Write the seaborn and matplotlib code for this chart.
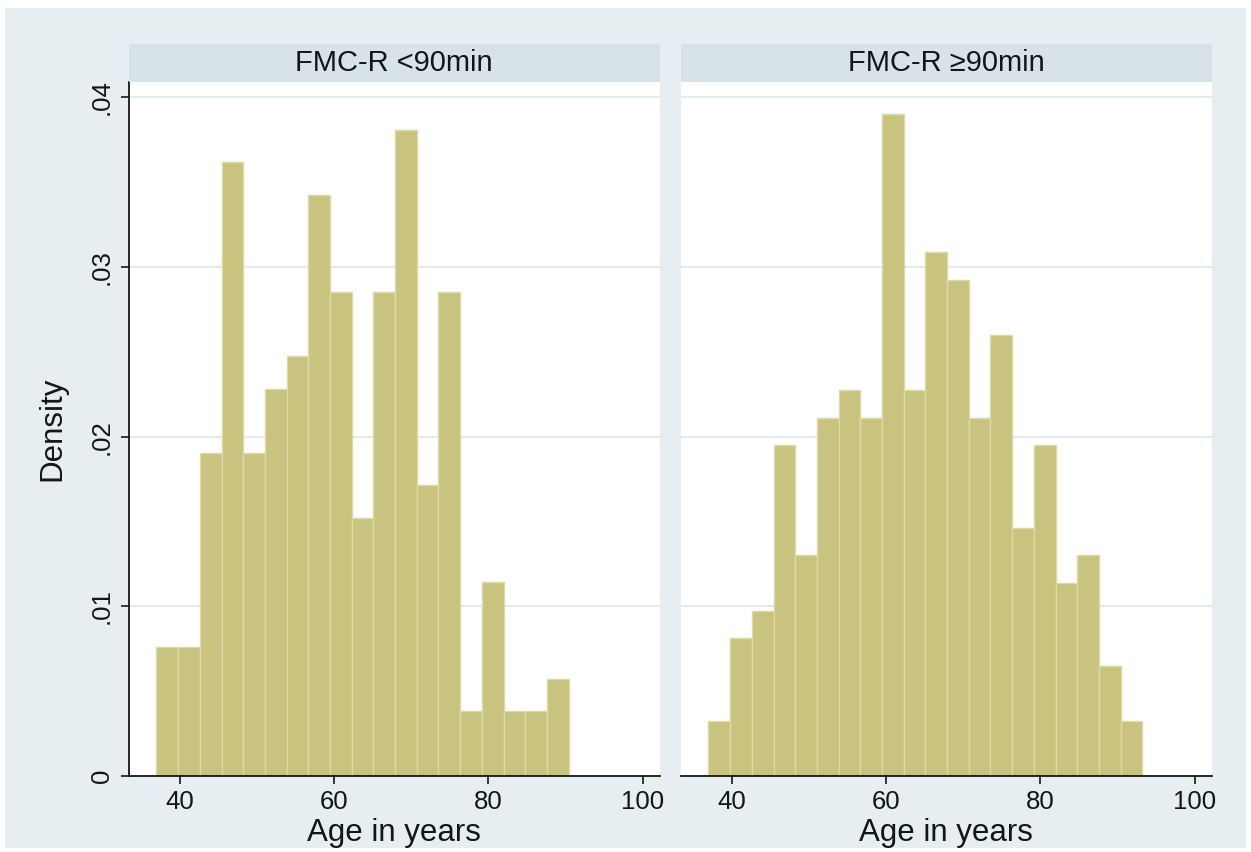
import numpy as np
import pandas as pd
import matplotlib
matplotlib.use("Agg")
import matplotlib.pyplot as plt
import seaborn as sns
from matplotlib.patches import Rectangle

# ---------------- data ----------------
panel_titles = ["FMC-R <90min", "FMC-R \u226590min"]
bin_start = 37.0          # left edge of the first bin (years)
bin_width = 2.81          # bin width (years)
counts_lt90 = [4, 4, 10, 19, 10, 12, 13, 18, 15, 8, 15, 20, 9, 15, 2, 6, 2, 2, 3]
counts_ge90 = [2, 5, 6, 12, 8, 13, 14, 13, 24, 14, 19, 18, 13, 16, 9, 12, 7, 8, 4, 2]
x_ticks = [40, 60, 80, 100]
y_ticks = [0, 0.01, 0.02, 0.03, 0.04]
y_tick_labels = ["0", ".01", ".02", ".03", ".04"]
x_label = "Age in years"
y_label = "Density"

# ---------------- style ----------------
BG = "#e7eef1"
STRIP = "#d8e3e9"
GRID = "#e1ebef"
BAR = "#c8c37f"
EDGE = "#ded9a6"
INK = "#151515"

sns.set_theme(style="white")
plt.rcParams['font.family'] = ['Liberation Sans', 'DejaVu Sans']

W, H = 1251, 852
fig = plt.figure(figsize=(W / 100, H / 100), dpi=100)
fig.patch.set_facecolor("white")
fig.patches.append(Rectangle((5 / W, 4 / H), 1241 / W, 840 / H,
                             transform=fig.transFigure, facecolor=BG,
                             edgecolor="none", zorder=-10))

frames = []
for title, counts in zip(panel_titles, [counts_lt90, counts_ge90]):
    n = len(counts)
    centers = bin_start + bin_width * (np.arange(n) + 0.5)
    frames.append(pd.DataFrame({"group": title, "age": centers, "count": counts}))
df = pd.concat(frames, ignore_index=True)

ax_w, ax_h = 530.5, 694
lefts = [129, 681]
bottom = 76
axes = []
for i, title in enumerate(panel_titles):
    ax = fig.add_axes([lefts[i] / W, bottom / H, ax_w / W, ax_h / H])
    axes.append(ax)
    sub = df[df["group"] == title]
    edges = (bin_start + bin_width * np.arange(len(sub) + 1)).tolist()
    sns.histplot(data=sub, x="age", weights="count", bins=edges, stat="density",
                 ax=ax, color=BAR, edgecolor=EDGE, linewidth=1.0, alpha=1.0, zorder=2)
    ax.set_facecolor("white")
    ax.set_xlim(33.45, 102.15)
    ax.set_ylim(0, 0.0409)
    ax.set_axisbelow(True)
    ax.yaxis.grid(True, color=GRID, linewidth=1.4)
    ax.xaxis.grid(False)
    ax.set_xticks(x_ticks)
    ax.set_xticklabels([str(t) for t in x_ticks])
    ax.tick_params(axis="x", direction="out", length=6, width=1.2, color=INK,
                   labelsize=18.5, labelcolor=INK, pad=4, bottom=True)
    ax.set_xlabel(x_label, fontsize=22.5, color=INK, labelpad=3)
    for s in ["top", "right"]:
        ax.spines[s].set_visible(False)
    ax.spines["bottom"].set_color(INK)
    ax.spines["bottom"].set_linewidth(1.3)
    ax.set_yticks(y_ticks)
    if i == 0:
        ax.set_yticklabels(y_tick_labels, rotation=90, va="center")
        ax.tick_params(axis="y", direction="out", length=6, width=1.2, color=INK,
                       labelsize=18.5, labelcolor=INK, pad=5, left=True)
        ax.spines["left"].set_color(INK)
        ax.spines["left"].set_linewidth(1.3)
        ax.set_ylabel(y_label, fontsize=22.5, color=INK, labelpad=16)
    else:
        ax.spines["left"].set_visible(False)
        ax.tick_params(axis="y", left=False, labelleft=False)
        ax.set_ylabel("")
    # strip title
    sh = 38 / ax_h
    ax.add_patch(Rectangle((0, 1), 1, sh, transform=ax.transAxes, clip_on=False,
                           facecolor=STRIP, edgecolor="none", zorder=3))
    ax.text(0.5, 1 + sh / 2, title, transform=ax.transAxes, ha="center",
            va="center", fontsize=21, color=INK, zorder=4)

fig.savefig("out.png", dpi=100, facecolor=fig.get_facecolor())
